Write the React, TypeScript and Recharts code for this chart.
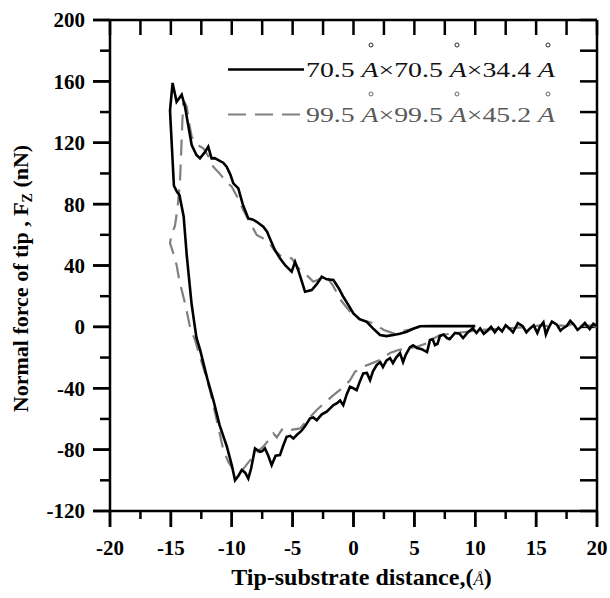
import React from 'react';
import { LineChart, Line, XAxis, YAxis, Label, ReferenceLine } from 'recharts';

const FONT = '"Liberation Serif", "Times New Roman", serif';

const xMajorTicks = [-20, -15, -10, -5, 0, 5, 10, 15, 20];
const xMinorTicks = [-17.5, -12.5, -7.5, -2.5, 2.5, 7.5, 12.5, 17.5];
const xAllTicks = [-20, -17.5, -15, -12.5, -10, -7.5, -5, -2.5, 0, 2.5, 5, 7.5, 10, 12.5, 15, 17.5, 20];
const yMajorTicks = [-120, -80, -40, 0, 40, 80, 120, 160, 200];
const yMinorTicks = [-100, -60, -20, 20, 60, 100, 140, 180];
const yAllTicks = [-120, -100, -80, -60, -40, -20, 0, 20, 40, 60, 80, 100, 120, 140, 160, 180, 200];

const X_DOMAIN: [number, number] = [-20, 20];
const Y_DOMAIN: [number, number] = [-120, 200];

const seriesNames = ['70.5', '70.5', '34.4'];
const seriesNames2 = ['99.5', '99.5', '45.2'];

// Solid curve (70.5 x 70.5 x 34.4): x, F
const solidPath: [number, number][] = [
  [20.0, 0.5], [19.7, 2], [19.4, -1.5], [19.0, 2.5], [18.7, 0], [18.4, -2], [18.1, 1.5], [17.8, 4],
  [17.5, 0.5], [17.2, -1], [17.0, -2.5], [16.7, 1.5], [16.3, 3.5], [16.0, -1], [15.8, -5], [15.6, 3],
  [15.3, 0], [15.1, -4], [14.8, 1], [14.5, -1], [14.2, -3.5], [13.9, 0.5], [13.5, 2.5], [13.1, -3.5],
  [12.8, -1], [12.5, 1], [12.2, -3], [11.9, -0.5], [11.6, -3.5], [11.3, 0], [11.0, -2.5], [10.7, -4.5],
  [10.4, -1], [10.1, -4], [9.8, -1], [9.4, -3.4], [9.0, -7.3], [8.7, -4.5], [8.34, -4.0], [7.9, -8],
  [7.68, -7.3], [7.4, -5], [7.1, -6.0], [6.9, -11], [6.69, -11.9], [6.5, -8], [6.28, -8.6], [6.04, -16.4],
  [5.6, -14.5], [5.22, -13.8], [4.9, -12], [4.64, -13.2], [4.3, -18], [4.07, -22.9], [3.82, -17.1],
  [3.5, -20], [3.24, -23.6], [3.0, -20.3], [2.7, -22], [2.42, -26.2], [2.2, -23], [1.9, -24.9],
  [1.6, -29], [1.36, -34.7], [1.1, -30], [0.8, -30.3], [0.5, -36], [0.26, -41.2], [-0.01, -40],
  [-0.29, -39], [-0.56, -44], [-0.84, -51], [-1.1, -48], [-1.38, -49.9], [-1.65, -51], [-1.9, -53],
  [-2.2, -55.3], [-2.6, -57], [-3.02, -60.8], [-3.3, -59], [-3.57, -59.6], [-4.0, -65], [-4.3, -68],
  [-4.6, -70], [-4.94, -72.7], [-5.2, -71], [-5.49, -71.6], [-5.8, -78], [-6.04, -83.6], [-6.4, -84],
  [-6.72, -90.1], [-7.0, -84], [-7.27, -79.2], [-7.5, -81], [-7.68, -81.4], [-8.09, -79.2], [-8.4, -92],
  [-8.64, -98.8], [-8.9, -95], [-9.18, -93.3], [-9.45, -97], [-9.73, -99.9], [-10.0, -90], [-10.4, -78],
  [-11.0, -64], [-11.5, -48], [-12.0, -34], [-12.6, -15], [-12.9, -7], [-13.3, 15], [-13.7, 47],
  [-13.95, 72], [-14.3, 86], [-14.5, 88], [-14.75, 92], [-15.0, 130], [-15.07, 141], [-14.86, 159],
  [-14.53, 146.7], [-14.11, 151.3], [-13.84, 143.5], [-13.5, 128], [-13.29, 118.5], [-12.9, 112],
  [-12.61, 109.8], [-12.2, 114], [-11.93, 117.4], [-11.66, 109.8], [-11.4, 110], [-11.1, 108.7],
  [-10.7, 107], [-10.42, 104.4], [-10.1, 99], [-9.87, 93.5], [-9.46, 90.3], [-9.1, 80], [-8.64, 70.7],
  [-8.3, 70], [-7.95, 68.5], [-7.41, 65.3], [-7.1, 62], [-6.86, 57.5], [-6.45, 50], [-6.04, 44.7],
  [-5.6, 40], [-5.08, 36.0], [-4.8, 42.4], [-4.5, 36], [-3.98, 22.9], [-3.43, 24.0], [-3.0, 28],
  [-2.61, 32.7], [-2.2, 31], [-1.65, 30.5], [-1.2, 25], [-0.84, 19.6], [-0.4, 14], [-0.01, 8.8],
  [0.5, 5], [1.08, 3.3], [1.6, -1], [2.18, -5.3], [2.7, -6], [3.27, -5.3], [3.8, -4.5], [4.37, -3.2],
  [4.9, -1.2], [5.46, 0.4], [6.5, 0.5], [10.0, 0.5],
];

// Dashed curve (99.5 x 99.5 x 45.2): x, F
const dashedPath: [number, number][] = [
  [20.0, 0], [19.5, 1], [19.0, 0.5], [18.5, 1.5], [18.0, 2], [17.5, 0.5], [17.0, 1], [16.5, 0],
  [16.0, 0.5], [15.3, 1], [14.5, 0], [13.5, -0.5], [12.5, -1], [11.5, -1.5], [10.4, -2], [9.5, -3],
  [8.5, -4], [7.1, -5.3], [6.5, -8], [5.9, -11], [5.19, -13], [4.5, -14], [3.68, -15.1], [3.0, -17],
  [2.18, -21.6], [1.49, -23.8], [0.8, -26], [0.12, -29.2], [-0.3, -35], [-0.97, -40.1], [-1.65, -44.5],
  [-2.3, -49], [-3.02, -54.2], [-3.7, -60], [-4.39, -66.2], [-5.22, -67.3], [-5.8, -66], [-6.3, -72],
  [-6.59, -69.4], [-7.0, -74], [-7.41, -78.1], [-8.0, -82], [-8.6, -88], [-9.3, -95], [-9.8, -94],
  [-10.28, -88], [-10.69, -80.3], [-11.2, -62], [-11.79, -41.2], [-12.2, -30], [-12.61, -19.5],
  [-13.0, -9], [-13.43, 0], [-13.8, 14], [-14.11, 24], [-14.3, 30], [-14.52, 40], [-14.8, 48],
  [-15.07, 54.6], [-14.95, 60], [-14.66, 66], [-14.45, 78], [-14.25, 95], [-14.15, 115], [-14.05, 135],
  [-13.98, 145.7], [-13.85, 146], [-13.7, 143.5], [-13.5, 133], [-13.29, 123.9], [-12.9, 119],
  [-12.34, 116.4], [-11.9, 111], [-11.52, 104.4], [-11.0, 100], [-10.5, 95], [-10.0, 91.3], [-9.5, 84],
  [-9.05, 76.1], [-8.5, 68], [-7.95, 59.9], [-7.5, 58], [-7.0, 55.5], [-6.5, 50], [-5.9, 45.7],
  [-5.08, 44.7], [-4.5, 38], [-3.85, 33.8], [-3.3, 29.4], [-2.8, 31], [-2.2, 32.7], [-1.7, 27],
  [-1.0, 17], [-0.3, 10], [0.5, 5], [1.63, 2.3], [2.5, -2], [3.27, -4.2], [3.9, -3], [4.51, -2.0],
  [5.2, -0.5], [6.0, 0.3],
];

const solidData = solidPath.map(([x, y]) => ({ x, y }));
const dashedData = dashedPath.map(([x, y]) => ({ x, y }));

const SOLID = '#000000';
const DASHED = '#808080';
const AXIS = '#000000';
const tickFont = { fontFamily: FONT, fontWeight: 'bold', fontSize: 21, fill: '#000' };

// plot box in px, used to turn tick lengths (px) into data units
const PLOT_W = 487;
const PLOT_H = 491;
const perPxX = (X_DOMAIN[1] - X_DOMAIN[0]) / PLOT_W;
const perPxY = (Y_DOMAIN[1] - Y_DOMAIN[0]) / PLOT_H;

const XLabel = (props: any) => {
  const { x, y, width } = props.viewBox;
  return (
    <text x={x + width / 2 + 8} y={y + 74} textAnchor="middle" fontFamily={FONT} fontWeight="bold" fontSize={24} fill="#000">
      Tip-substrate distance,(
      <tspan fontStyle="italic" fontWeight="normal" fontSize={17}>Å</tspan>)
    </text>
  );
};

const YLabel = (props: any) => {
  const { x, y, height } = props.viewBox;
  const cx = x + 28;
  const cy = y + height / 2 + 13;
  return (
    <text x={cx} y={cy} transform={`rotate(-90, ${cx}, ${cy})`} textAnchor="middle" fontFamily={FONT} fontWeight="bold" fontSize={22} fill="#000">
      Normal force of tip , F
      <tspan fontSize={14} dy={4}>Z</tspan>
      <tspan dy={-4}> (nN)</tspan>
    </text>
  );
};

const legendRows = [
  { names: seriesNames, color: '#111', lineColor: SOLID, dash: undefined as string | undefined, lineY: 69.5, base: 77, ringY: 45 },
  { names: seriesNames2, color: '#5a5a5a', lineColor: DASHED, dash: '18 9', lineY: 114.5, base: 122, ringY: 94 },
];

const LegendOverlay = () => (
  <svg width={610} height={598} style={{ position: 'absolute', left: 0, top: 0, pointerEvents: 'none' }}>
    {legendRows.map((r, i) => (
      <g key={i}>
        <line x1={228} y1={r.lineY} x2={304} y2={r.lineY} stroke={r.lineColor} strokeWidth={i === 0 ? 2.6 : 2.2} strokeDasharray={r.dash} />
        <text x={306} y={r.base} fontFamily={FONT} fontSize={20} fill={r.color} textLength={249} lengthAdjust="spacingAndGlyphs">
          {r.names[0]} <tspan fontStyle="italic">A</tspan>×{r.names[1]} <tspan fontStyle="italic">A</tspan>×{r.names[2]} <tspan fontStyle="italic">A</tspan>
        </text>
        {[371, 457, 548].map((cx) => (
          <circle key={cx} cx={cx} cy={r.ringY} r={2} fill="none" stroke={r.color} strokeWidth={0.9} />
        ))}
      </g>
    ))}
  </svg>
);

export default function App() {
  const tickSeg = { stroke: AXIS, strokeWidth: 2.5, ifOverflow: 'visible' as const };
  return (
    <div style={{ position: 'absolute', left: 0, top: 0, width: 610, height: 598, background: '#fff' }}>
      <LineChart width={610} height={598} margin={{ top: 20, right: 13, bottom: 0, left: 0 }}>
        <XAxis
          dataKey="x"
          type="number"
          domain={X_DOMAIN}
          ticks={xMajorTicks}
          interval={0}
          height={87}
          tickSize={16}
          tickMargin={13}
          stroke={AXIS}
          strokeWidth={2.5}
          tick={tickFont}
          label={<Label content={<XLabel />} />}
        />
        <YAxis
          type="number"
          domain={Y_DOMAIN}
          tickCount={9}
          width={110}
          tickSize={17}
          tickMargin={8}
          stroke={AXIS}
          strokeWidth={2.5}
          tick={tickFont}
          label={<Label content={<YLabel />} />}
        />
        {/* frame: top and right axis lines */}
        <ReferenceLine y={Y_DOMAIN[1]} {...tickSeg} />
        <ReferenceLine x={X_DOMAIN[1]} {...tickSeg} />
        {/* bottom major ticks (outward) */}
        {xMajorTicks.map((v) => (
          <ReferenceLine key={`bM${v}`} segment={[{ x: v, y: Y_DOMAIN[0] }, { x: v, y: Y_DOMAIN[0] - 16 * perPxY }]} {...tickSeg} />
        ))}
        {/* bottom minor ticks (outward) */}
        {xMinorTicks.map((v) => (
          <ReferenceLine key={`bm${v}`} segment={[{ x: v, y: Y_DOMAIN[0] }, { x: v, y: Y_DOMAIN[0] - 8 * perPxY }]} {...tickSeg} />
        ))}
        {/* left major ticks (outward) */}
        {yMajorTicks.map((v) => (
          <ReferenceLine key={`lM${v}`} segment={[{ x: X_DOMAIN[0], y: v }, { x: X_DOMAIN[0] - 17 * perPxX, y: v }]} {...tickSeg} />
        ))}
        {/* left minor ticks (outward) */}
        {yMinorTicks.map((v) => (
          <ReferenceLine key={`lm${v}`} segment={[{ x: X_DOMAIN[0], y: v }, { x: X_DOMAIN[0] - 10 * perPxX, y: v }]} {...tickSeg} />
        ))}
        {/* top ticks (inward) */}
        {xAllTicks.map((v) => (
          <ReferenceLine key={`t${v}`} segment={[{ x: v, y: Y_DOMAIN[1] }, { x: v, y: Y_DOMAIN[1] - 15 * perPxY }]} {...tickSeg} />
        ))}
        {/* right ticks (inward) */}
        {yAllTicks.map((v) => (
          <ReferenceLine key={`r${v}`} segment={[{ x: X_DOMAIN[1], y: v }, { x: X_DOMAIN[1] - 17 * perPxX, y: v }]} {...tickSeg} />
        ))}
        <Line
          data={dashedData}
          dataKey="y"
          type="linear"
          stroke={DASHED}
          strokeWidth={2.2}
          strokeDasharray="16 9"
          dot={false}
          activeDot={false}
          isAnimationActive={false}
          name="99.5 Å×99.5 Å×45.2 Å"
        />
        <Line
          data={solidData}
          dataKey="y"
          type="linear"
          stroke={SOLID}
          strokeWidth={2.6}
          dot={false}
          activeDot={false}
          isAnimationActive={false}
          name="70.5 Å×70.5 Å×34.4 Å"
        />
      </LineChart>
      <LegendOverlay />
    </div>
  );
}
